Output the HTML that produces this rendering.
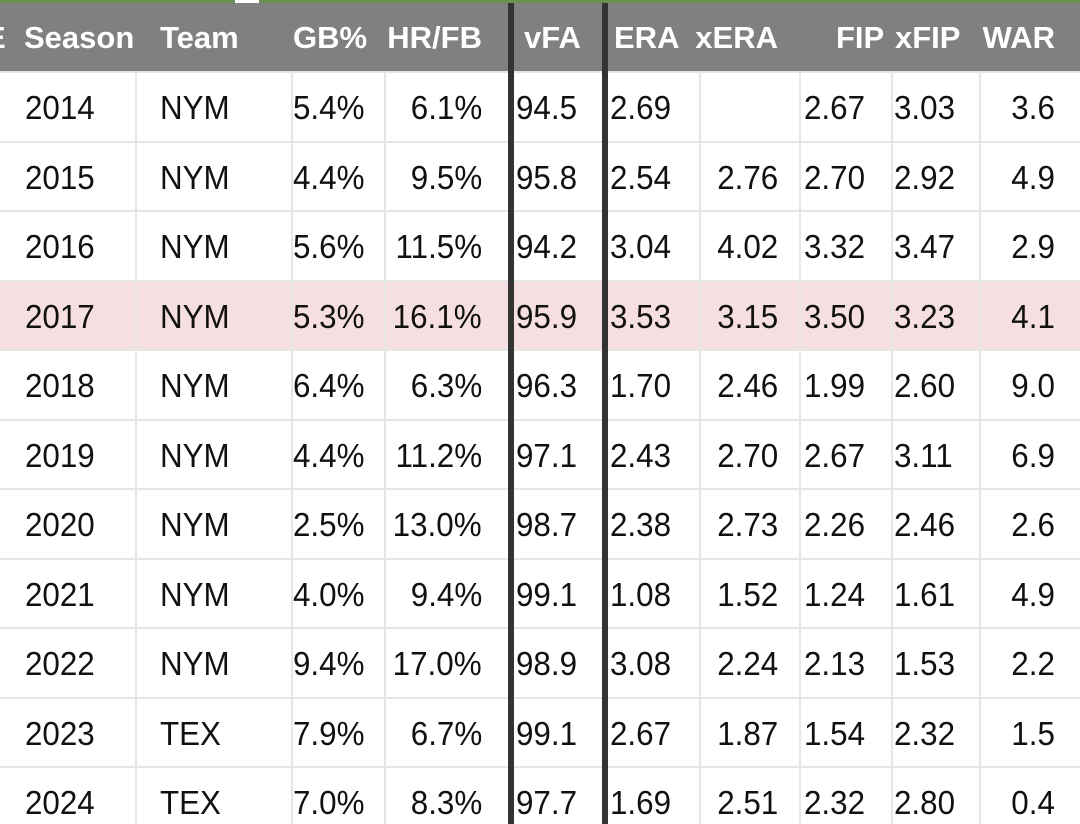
<!DOCTYPE html>
<html><head><meta charset="utf-8"><style>
html,body{margin:0;width:1080px;height:824px;overflow:hidden}
body{background:#fff;font-family:"Liberation Sans",Roboto,sans-serif;position:relative}
.c{position:absolute;white-space:nowrap;line-height:1}
.h{color:#fff;font-weight:bold;font-size:31px}
.d{color:#111;font-size:33px;transform:scaleX(0.95)}
.d.l{transform-origin:left center}
.d.r{transform-origin:right center}
.vl{position:absolute;top:72px;width:2px;height:752px;background:#e6e6e6}
.hl{position:absolute;left:0;width:1080px;height:2px;background:#e6e6e6}
</style></head><body>
<div style="position:absolute;left:0;top:0;width:1080px;height:3px;background:#6b8f4e"></div>
<div style="position:absolute;left:235px;top:0;width:24px;height:3px;background:#fff"></div>
<div style="position:absolute;left:0;top:3px;width:1080px;height:69px;background:#808080"></div>
<div id="t"></div>
<script>
const headers=["Season","Team","GB%","HR/FB","vFA","ERA","xERA","FIP","xFIP","WAR"];
const seasons=["2014","2015","2016","2017","2018","2019","2020","2021","2022","2023","2024"];
const teams=["NYM","NYM","NYM","NYM","NYM","NYM","NYM","NYM","NYM","TEX","TEX"];
const gb=["5.4%","4.4%","5.6%","5.3%","6.4%","4.4%","2.5%","4.0%","9.4%","7.9%","7.0%"];
const hrfb=["6.1%","9.5%","11.5%","16.1%","6.3%","11.2%","13.0%","9.4%","17.0%","6.7%","8.3%"];
const vfa=["94.5","95.8","94.2","95.9","96.3","97.1","98.7","99.1","98.9","99.1","97.7"];
const era=["2.69","2.54","3.04","3.53","1.70","2.43","2.38","1.08","3.08","2.67","1.69"];
const xera=["","2.76","4.02","3.15","2.46","2.70","2.73","1.52","2.24","1.87","2.51"];
const fip=["2.67","2.70","3.32","3.50","1.99","2.67","2.26","1.24","2.13","1.54","2.32"];
const xfip=["3.03","2.92","3.47","3.23","2.60","3.11","2.46","1.61","1.53","2.32","2.80"];
const war=["3.6","4.9","2.9","4.1","9.0","6.9","2.6","4.9","2.2","1.5","0.4"];
const cols=[seasons,teams,gb,hrfb,vfa,era,xera,fip,xfip,war];
const pos=[[25,'l'],[160,'l'],[293,'l'],[482,'r'],[516,'l'],[610,'l'],[778,'r'],[804,'l'],[894,'l'],[1055,'r']];
const hpos=[[24,'l'],[160,'l'],[293,'l'],[482,'r'],[524,'l'],[614,'l'],[778,'r'],[836,'l'],[895,'l'],[1055,'r']];
const T=document.getElementById('t');
const RH=69.5,R0=72,HL=3;
const hr=document.createElement('div');


hr.style.cssText=`position:absolute;left:0;top:${R0+HL*RH}px;width:1080px;height:${RH}px;background:#f6dfe1`;
T.appendChild(hr);
for(let i=0;i<=seasons.length;i++){const l=document.createElement('div');l.className='hl';


l.style.top=(R0+i*RH-1)+'px';T.appendChild(l);}
[136,292,385,700,800,892,980].forEach(x=>{const l=document.createElement('div');l.className='vl';


l.style.left=(x-1)+'px';T.appendChild(l);});
function place(el,p,y){ if(p[1]=='l'){el.style.left=p[0]+'px';}else{el.style.right=(1080-p[0])+'px';} el.style.top=y+'px'; el.classList.add(p[1]); }
const e0=document.createElement('div');e0.className='c h';e0.textContent='E';e0.style.left='-15px';e0.style.top='22px';


T.appendChild(e0);
headers.forEach((h,j)=>{const el=document.createElement('div');el.className='c h';el.textContent=h;


place(el,hpos[j],22);T.appendChild(el);});
seasons.forEach((s,i)=>{cols.forEach((c,j)=>{const el=document.createElement('div');el.className='c d';el.textContent=c[i];


place(el,pos[j],R0+i*RH+19);T.appendChild(el);});});
[508,602].forEach(x=>{const l=document.createElement('div');


l.style.cssText=`position:absolute;left:${x}px;top:3px;width:6px;height:821px;background:#333`;T.appendChild(l);});
</script>
</body></html>
